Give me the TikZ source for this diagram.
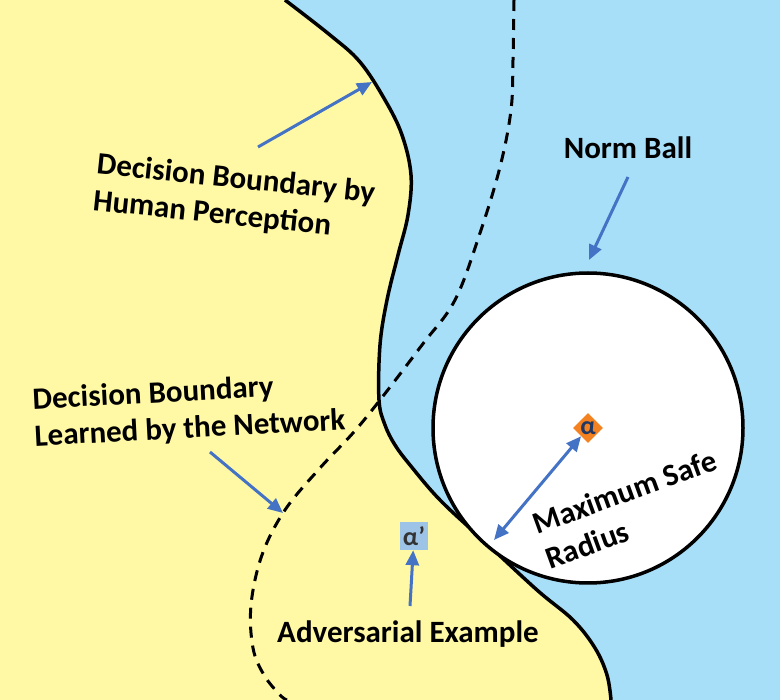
\documentclass[tikz,border=0pt]{standalone}
\usepackage{fontspec}
\setmainfont{Carlito}
\usetikzlibrary{arrows.meta, positioning, shapes.geometric}

\definecolor{skyblue}{HTML}{A7DFF9}
\definecolor{paleyellow}{HTML}{FFF9A5}
\definecolor{pointblue}{HTML}{4472C4}
\definecolor{sampleorange}{HTML}{F58220}
\definecolor{samplenavy}{HTML}{1F3864}
\definecolor{advblue}{HTML}{9DC3E6}

% points of the two boundaries
\def\humancurve{(285,0) (330,35) (360,62) (385,100) (402,135) (411,175) (408,215) (398,255) (387,300) (380,345) (379,400) (385,425) (395,445) (410,465) (440,500) (483,540) (537,590) (573,620) (595,648) (607,675) (611,700)}
\def\netcurve{(514,0) (513,60) (511,110) (500,167) (480,233) (455,300) (422,345) (380,400) (353,433) (320,468) (285,510) (262,555) (251,605) (253,648) (264,675) (280,695) (287,700)}

\begin{document}
\begin{tikzpicture}[x=1pt, y=-1pt,
            boundary/.style={draw=black, line width=3.5pt},
            learned/.style={draw=black, line width=3pt, dash pattern=on 11pt off 8pt},
            >={Triangle[length=15pt, width=13pt]},
            pointer/.style={draw=pointblue, line width=3pt, ->},
            note/.style={font=\bfseries\fontsize{31}{37}\selectfont, align=left, inner sep=0pt},
            sample/.style={diamond, fill=sampleorange, inner sep=0pt, minimum size=30pt, text=samplenavy, font=\bfseries\fontsize{26}{26}\selectfont},
            advsample/.style={rectangle, fill=advblue, inner sep=0pt, minimum size=28pt, text=black!80, font=\bfseries\fontsize{26}{26}\selectfont}
        ]

            \useasboundingbox (0,0) rectangle (780,700);

            % Regions
            \fill[skyblue] (0,0) rectangle (780,700);
            \fill[paleyellow] (0,0) -- plot[smooth, tension=0.6] coordinates {\humancurve} -- (0,700) -- cycle;

            % Boundaries
            \draw[boundary] plot[smooth, tension=0.6] coordinates {\humancurve};
            \draw[learned] plot[smooth, tension=0.6] coordinates {\netcurve};

            % Norm ball and samples
            \node[circle, draw=black, line width=3.5pt, fill=white, minimum size=310pt] (ball) at (588,428) {};
            \node[sample] (alpha) at (ball.center) {α};
            \node[advsample] (advx) at (414,536) {α’};

            % Labels
            \node[note, rotate=-6] (human) at (234,198) {Decision Boundary by\\Human Perception};
            \node[note] (normball) at (628,148) {Norm Ball};
            \node[note, rotate=3] (network) at (189,411) {Decision Boundary\\Learned by the Network};
            \node[note, rotate=20] (radius) at (631,509) {Maximum Safe\\Radius};
            \node[note] (adversarial) at (408,634) {Adversarial Example};

            % Arrow ends
            \coordinate (human-tail) at (258,147);
            \coordinate (human-tip) at (372,82);
            \coordinate (ball-tail) at (628,177);
            \coordinate (ball-tip) at (589,260);
            \coordinate (network-tail) at (210,452);
            \coordinate (network-tip) at (283,513);
            \coordinate (touch) at (494,540);
            \coordinate (adv-tail) at (410,606);

            % Arrows
            \draw[pointer] (human-tail) -- (human-tip);
            \draw[pointer] (ball-tail) -- (ball-tip);
            \draw[pointer] (network-tail) -- (network-tip);
            \draw[pointer, <->] (touch) -- (alpha);
            \draw[pointer] (adv-tail) -- (advx);

        \end{tikzpicture}
\end{document}
